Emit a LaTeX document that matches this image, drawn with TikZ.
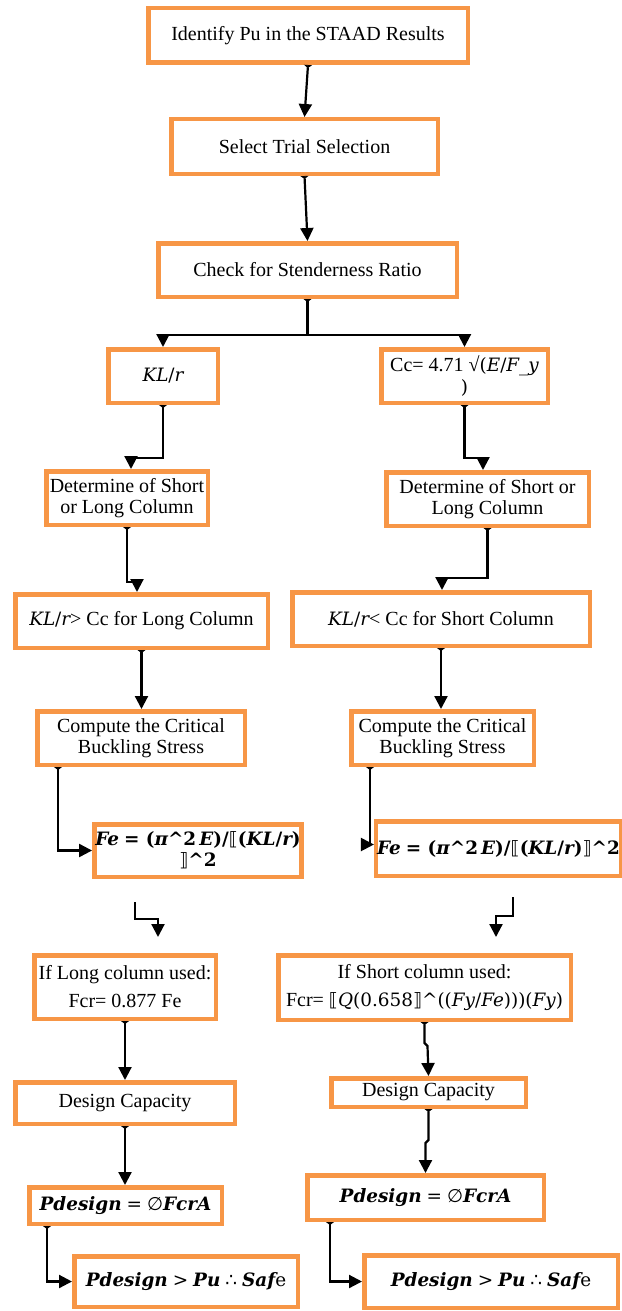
\documentclass[tikz,border=0pt]{standalone}
\usepackage{fontspec}
\setmainfont{Liberation Serif}
\newfontfamily\mathserif[Scale=0.92]{DejaVu Serif}
\newfontfamily\symsans[Scale=0.92]{DejaVu Sans}
\usetikzlibrary{arrows.meta}
\definecolor{boxorange}{HTML}{F79646}
\newcommand\fs{\fontsize{20}{21}\selectfont}
\newcommand\mi[1]{{\mathserif\itshape #1}}
\newcommand\mr[1]{{\mathserif #1}}
\newcommand\mbi[1]{{\mathserif\bfseries\itshape #1}}
\newcommand\mbr[1]{{\mathserif\bfseries #1}}
\newcommand\lbr{{\symsans\mdseries ⟦}}
\newcommand\rbr{{\symsans\mdseries ⟧}}
\tikzset{
  box/.style={draw=boxorange, line width=4.5pt, fill=white, align=center,
              inner sep=1pt, font=\fs},
  link/.style={line width=2.2pt,
               {Triangle[reversed,length=3pt,width=8pt]}-{Triangle[length=13pt,width=13pt]}},
  plain/.style={line width=2.2pt, {Triangle[reversed,length=3pt,width=8pt]}-},
  loose/.style={line width=2.2pt, -{Triangle[length=13pt,width=13pt]}}
}
\begin{document}
\begin{tikzpicture}[x=1pt,y=-1pt]
\useasboundingbox (0,0) rectangle (621,1311);
\fill[white] (0,0) rectangle (621,1311);

% main column
\node[box, minimum width=319.5pt, minimum height=54.5pt] (n1) at (308,35.5)
  {Identify Pu in the STAAD Results};
\node[box, minimum width=266.5pt, minimum height=54.5pt] (n2) at (304.5,146.5)
  {Select Trial Selection};
\node[box, minimum width=298.5pt, minimum height=53.5pt] (n3) at (307.5,270)
  {Check for Stenderness Ratio};

% left branch
\node[box, minimum width=109.5pt, minimum height=53.5pt] (kl) at (163,376)
  {\mi{KL}\mr{/}\mi{r}};
\node[box, minimum width=161.5pt, minimum height=53.5pt] (detL) at (127,498)
  {Determine of Short\\or Long Column};
\node[box, minimum width=252.5pt, minimum height=53.5pt] (gtL) at (141.5,621)
  {\mi{KL}\mr{/}\mi{r}> Cc for Long Column};
\node[box, minimum width=207.5pt, minimum height=53.5pt] (compL) at (141,738)
  {Compute the Critical\\Buckling Stress};
\node[box, minimum width=199.5pt, minimum height=52.5pt] (feL) at (198,850.5)
  {\mbi{Fe} \mbr{= (}\mbi{π}\mbr{\textasciicircum2\,}\mbi{E}\mbr{)/}\lbr\mbr{(}\mbi{KL}\mbr{/}\mbi{r}\mbr{)}\\\rbr\mbr{\textasciicircum2}};
\node[box, minimum width=181.5pt, minimum height=63.5pt, font=\fontsize{20}{28}\selectfont] (ifL) at (125,987)
  {If Long column used:\\Fcr= 0.877 Fe};
\node[box, minimum width=219.5pt, minimum height=41.5pt] (dcL) at (125,1103)
  {Design Capacity};
\node[box, minimum width=192.5pt, minimum height=36.5pt] (pdL) at (125.5,1205.5)
  {\mbi{Pdesign} \mr{=} {\symsans ∅}\mbi{FcrA}};
\node[box, minimum width=223.5pt, minimum height=50.5pt] (sfL) at (186,1281.5)
  {\mbi{Pdesign} \mr{>} \mbi{Pu} {\symsans ∴} \mbi{Saf}\mr{e}};

% right branch
\node[box, minimum width=166.5pt, minimum height=53.5pt, font=\fontsize{20}{22}\selectfont] (cc) at (464.5,376)
  {Cc= 4.71 √\mr{(}\mi{E}\mr{/}\mi{F\_y}\\\mr{)}};
\node[box, minimum width=202.5pt, minimum height=53.5pt] (detR) at (487.5,499)
  {Determine of Short or\\Long Column};
\node[box, minimum width=297.5pt, minimum height=53.5pt] (ltR) at (441,619)
  {\mi{KL}\mr{/}\mi{r}< Cc for Short Column};
\node[box, minimum width=182.5pt, minimum height=53.5pt] (compR) at (442.5,738)
  {Compute the Critical\\Buckling Stress};
\node[box, minimum width=230.5pt, minimum height=54.5pt] (feR) at (498.5,848.5)
  {\mbi{Fe} \mbr{= (}\mbi{π}\mbr{\textasciicircum2\,}\mbi{E}\mbr{)/}\lbr\mbr{(}\mbi{KL}\mbr{/}\mbi{r}\mbr{)}\rbr\mbr{\textasciicircum2}};
\node[box, minimum width=292.5pt, minimum height=64.5pt, font=\fontsize{20}{28}\selectfont] (ifR) at (424.5,987.5)
  {If Short column used:\\Fcr= \lbr\mi{Q}\mr{(0.658}\rbr\mr{\textasciicircum((}\mi{Fy}\mr{/}\mi{Fe}\mr{)))(}\mi{Fy}\mr{)}};
\node[box, minimum width=194.5pt, minimum height=28.5pt] (dcR) at (428.5,1092.5)
  {Design Capacity};
\node[box, minimum width=236.5pt, minimum height=44.5pt] (pdR) at (425.5,1197.5)
  {\mbi{Pdesign} \mr{=} {\symsans ∅}\mbi{FcrA}};
\node[box, minimum width=253.5pt, minimum height=52.5pt] (sfR) at (491,1281.5)
  {\mbi{Pdesign} \mr{>} \mbi{Pu} {\symsans ∴} \mbi{Saf}\mr{e}};

% connectors of the main column and the split
\draw[link] (n1.south) -- (n2.north);
\draw[link] (n2.south) -- (n3.north);
\coordinate (br) at (307.5,335);
\draw[plain] (n3.south) -- (br);
\draw[loose] (br) -| (kl.north);
\draw[loose] (br) -| (cc.north);

% left branch connectors
\draw[link] (kl.south) |- ([xshift=4pt,yshift=11pt]detL.north) -- ([xshift=4pt]detL.north);
\draw[link] (detL.south) |- ([xshift=-4.5pt,yshift=10pt]gtL.north) -- ([xshift=-4.5pt]gtL.north);
\draw[link] (gtL.south) -- (gtL.south |- compL.north);
\draw[link] ([xshift=23pt]compL.south west) |- (feL.west);
\draw[link] (ifL.south) -- (ifL.south |- dcL.north);
\draw[link] (dcL.south) -- (dcL.south |- pdL.north);
\draw[link] ([xshift=20pt]pdL.south west) |- (sfL.west);

% right branch connectors
\draw[link] (cc.south) |- ([xshift=-4.5pt,yshift=12pt]detR.north) -- ([xshift=-4.5pt]detR.north);
\draw[link] (detR.south) |- ([xshift=1pt,yshift=12pt]ltR.north) -- ([xshift=1pt]ltR.north);
\draw[link] (ltR.south) -- (ltR.south |- compR.north);
\draw[link] ([xshift=21pt]compR.south west) |- ([yshift=4pt]feR.west);
\draw[link] (ifR.south) -- ++(0,21) -- ++(3,3) -- (dcR.north);
\draw[link] (dcR.south) -- ++(0,31) -- ++(-3,3) -- (pdR.north);
\draw[link] ([xshift=25pt]pdR.south west) |- (sfR.west);

% loose arrows below the Fe boxes
\coordinate (sL1) at (135,902);
\coordinate (sL2) at (158,937);
\draw[loose] (sL1) -- ++(0,17) -| (sL2);
\coordinate (sR1) at (513,897);
\coordinate (sR2) at (496,937);
\draw[loose] (sR1) -- ++(0,19) -| (sR2);
\end{tikzpicture}
\end{document}
